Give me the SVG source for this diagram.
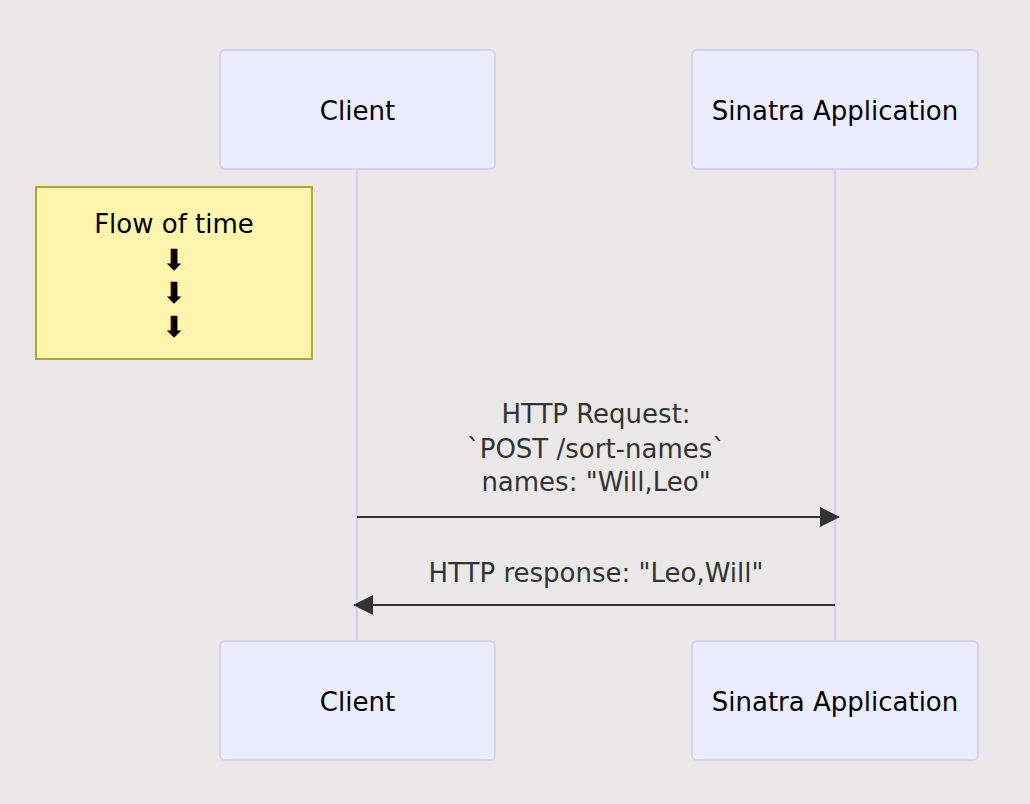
<svg xmlns="http://www.w3.org/2000/svg" width="1030" height="804" viewBox="0 0 1030 804">
<defs>
<style>
.actor{fill:#ECECFF;stroke:#D8D0F2;stroke-width:2}
.atext{font-family:"DejaVu Sans",sans-serif;font-size:26px;fill:#000;text-anchor:middle}
.life{stroke:#D8D0F2;stroke-width:2.5;fill:none}
.msg{stroke:#333;stroke-width:2;fill:none}
.mtext{font-family:"DejaVu Sans",sans-serif;font-size:26px;fill:#333;text-anchor:middle}
.note{fill:#FFF5AD;stroke:#AAAA33;stroke-width:2}
.ntext{font-family:"DejaVu Sans",sans-serif;font-size:26px;fill:#000;text-anchor:middle}
.arr{font-family:"DejaVu Sans",sans-serif;font-size:29px;fill:#000;text-anchor:middle}
</style>
<marker id="ah" viewBox="0 0 20 20" refX="19" refY="10" markerWidth="20" markerHeight="20" markerUnits="userSpaceOnUse" orient="auto">
<path d="M0,0 L20,10 L0,20 Z" fill="#333"/>
</marker>
</defs>
<rect width="1030" height="804" fill="#EAE8E8"/>
<g id="lifelines">
<line class="life" x1="357" y1="169" x2="357" y2="641"/>
<line class="life" x1="835" y1="169" x2="835" y2="641"/>
</g>
<g id="client-top"><rect class="actor" x="220" y="50" width="275" height="119" rx="5"/><text class="atext" x="357.5" y="120">Client</text></g>
<g id="sinatra-top"><rect class="actor" x="692" y="50" width="286" height="119" rx="5"/><text class="atext" x="835" y="120">Sinatra Application</text></g>
<g id="client-bottom"><rect class="actor" x="220" y="641" width="275" height="119" rx="5"/><text class="atext" x="357.5" y="711">Client</text></g>
<g id="sinatra-bottom"><rect class="actor" x="692" y="641" width="286" height="119" rx="5"/><text class="atext" x="835" y="711">Sinatra Application</text></g>
<g id="note">
<rect class="note" x="36" y="187" width="276" height="172"/>
<text class="ntext" x="174" y="233">Flow of time</text>
<text class="arr" x="174" y="270">⬇</text>
<text class="arr" x="174" y="303">⬇</text>
<text class="arr" x="174" y="337">⬇</text>
</g>
<g id="connectors">
<line class="msg" x1="357" y1="517" x2="839" y2="517" marker-end="url(#ah)"/>
<line class="msg" x1="835" y1="605" x2="354" y2="605" marker-end="url(#ah)"/>
<text class="mtext" x="596" y="423">HTTP Request:</text>
<text class="mtext" x="596" y="458">`POST /sort-names`</text>
<text class="mtext" x="596" y="491">names: "Will,Leo"</text>
<text class="mtext" x="596" y="582">HTTP response: "Leo,Will"</text>
</g>
</svg>
